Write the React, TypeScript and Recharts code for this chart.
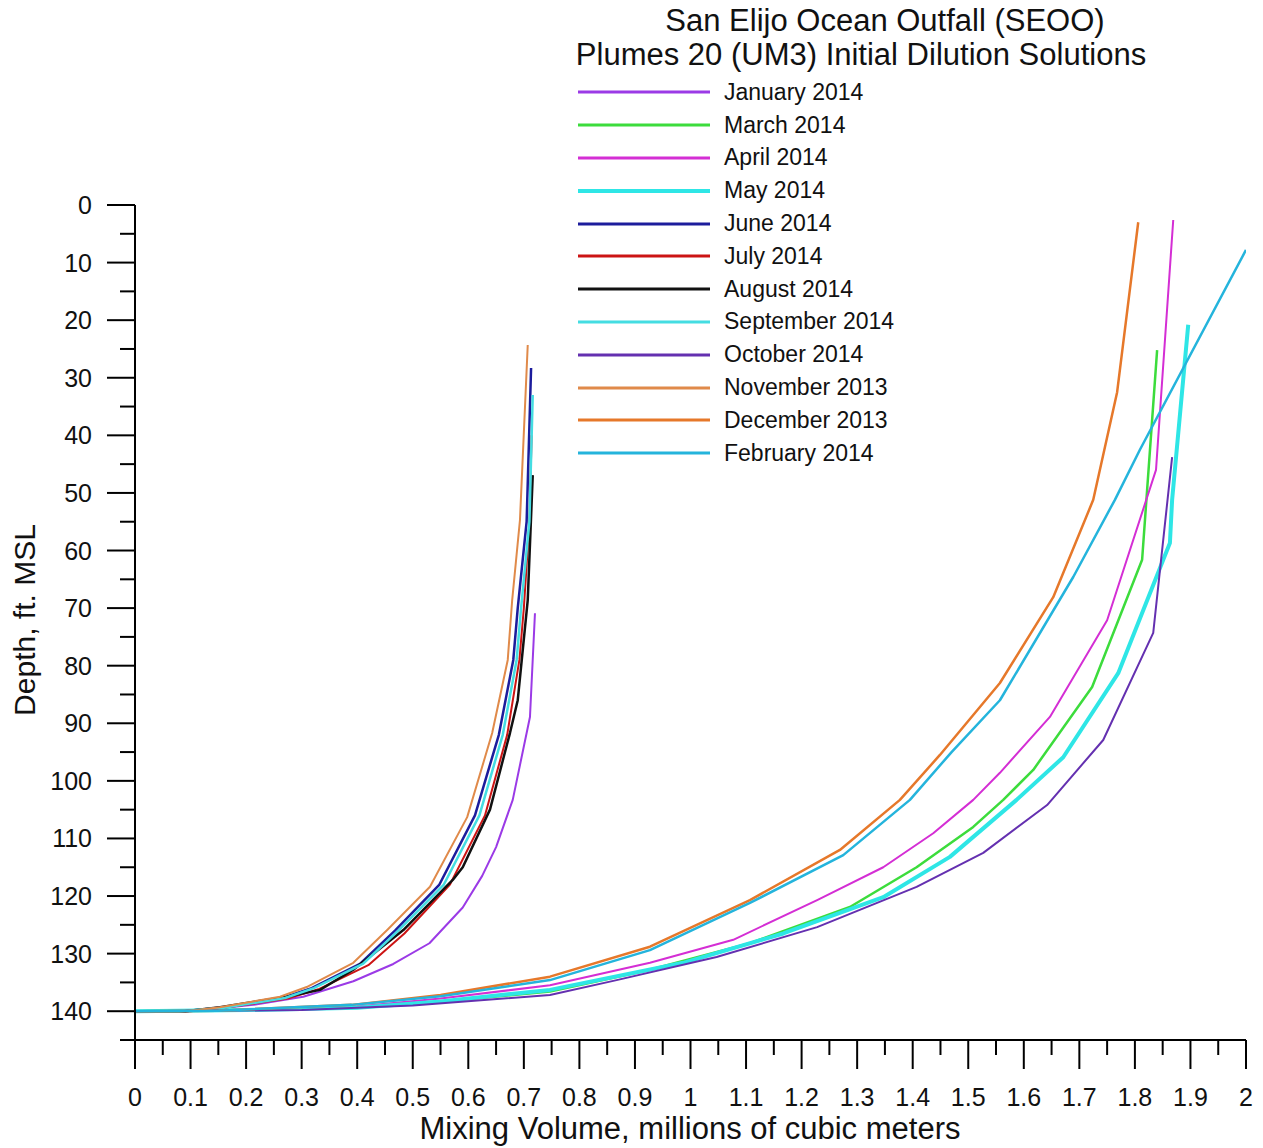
import { Legend, Line, LineChart, XAxis, YAxis } from 'recharts';

// [mixing volume (millions m3), depth (ft MSL)]
const jan2014 = [[0, 140], [0.123, 139.8], [0.213, 138.9], [0.303, 137.5], [0.393, 134.8], [0.465, 131.8], [0.53, 128.2], [0.59, 122], [0.625, 116.5], [0.65, 111.5], [0.68, 103.3], [0.711, 88.9], [0.72, 70.9]];
const mar2014 = [[0, 140], [0.2, 139.8], [0.4, 139.4], [0.55, 138.3], [0.747, 136.6], [0.927, 132.8], [1.107, 128.2], [1.287, 121.9], [1.407, 115], [1.509, 108], [1.563, 103.3], [1.617, 98.1], [1.723, 83.7], [1.813, 61.6], [1.84, 25.2]];
const apr2014 = [[0, 140], [0.2, 139.8], [0.4, 139.2], [0.55, 137.8], [0.747, 135.5], [0.927, 131.6], [1.077, 127.6], [1.228, 120.7], [1.347, 115], [1.437, 109.1], [1.509, 103.3], [1.557, 98.6], [1.647, 88.9], [1.75, 72.1], [1.838, 46], [1.869, 2.6]];
const may2014 = [[0, 140], [0.2, 139.8], [0.4, 139.4], [0.55, 138.3], [0.747, 136.3], [0.987, 131.6], [1.167, 126.5], [1.347, 120.2], [1.467, 113.2], [1.587, 103.3], [1.671, 95.9], [1.77, 81.3], [1.863, 58.7], [1.867, 51.2], [1.896, 20.8]];
const jun2014 = [[0, 140], [0.09, 140], [0.16, 139.3], [0.268, 137.6], [0.318, 136], [0.405, 131.8], [0.468, 126], [0.548, 118], [0.612, 106], [0.655, 92], [0.681, 79], [0.689, 70], [0.705, 55], [0.713, 28.3]];
const jul2014 = [[0, 140], [0.1, 140], [0.16, 139.4], [0.275, 137.8], [0.33, 136.2], [0.42, 132], [0.485, 126.5], [0.567, 118], [0.63, 106], [0.67, 92], [0.692, 79], [0.7, 70], [0.71, 55], [0.714, 40]];
const aug2014 = [[0, 140], [0.09, 140], [0.153, 139.3], [0.273, 137.5], [0.333, 136.3], [0.393, 132.8], [0.483, 125.9], [0.572, 117.2], [0.59, 115], [0.639, 105], [0.675, 91.7], [0.689, 86], [0.707, 68.6], [0.716, 46.9]];
const sep2014 = [[0, 140], [0.08, 140], [0.16, 139.4], [0.27, 137.7], [0.322, 136], [0.41, 131.8], [0.474, 126], [0.556, 118], [0.62, 106], [0.662, 92], [0.687, 79], [0.695, 70], [0.71, 55], [0.716, 33]];
const oct2014 = [[0, 140], [0.3, 139.8], [0.5, 139], [0.747, 137.2], [0.867, 134.6], [1.047, 130.6], [1.228, 125.4], [1.407, 118.4], [1.527, 112.5], [1.642, 104.2], [1.743, 92.9], [1.833, 74.3], [1.867, 43.8]];
const nov2013 = [[0, 140], [0.093, 140], [0.153, 139.3], [0.261, 137.5], [0.309, 135.8], [0.393, 131.6], [0.454, 125.9], [0.531, 118.4], [0.598, 106.3], [0.643, 91.7], [0.671, 79], [0.679, 68.6], [0.693, 54.7], [0.707, 24.3]];
const dec2013 = [[0, 140], [0.15, 139.9], [0.39, 138.9], [0.55, 137.2], [0.747, 134], [0.927, 128.8], [1.107, 120.7], [1.269, 112], [1.377, 103.3], [1.449, 95.5], [1.557, 83], [1.653, 68.1], [1.725, 51.2], [1.768, 32.5], [1.806, 3]];
const feb2014 = [[0, 140], [0.15, 139.9], [0.39, 138.9], [0.55, 137.4], [0.747, 134.6], [0.927, 129.4], [1.107, 121.2], [1.275, 112.9], [1.395, 103.3], [1.47, 95], [1.557, 86], [1.689, 64.6], [1.764, 51.2], [1.809, 42.5], [2.0, 7.8]];

const X_MAJOR = [0, 0.1, 0.2, 0.3, 0.4, 0.5, 0.6, 0.7, 0.8, 0.9, 1, 1.1, 1.2, 1.3, 1.4, 1.5, 1.6, 1.7, 1.8, 1.9, 2];
const Y_MAJOR = [0, 10, 20, 30, 40, 50, 60, 70, 80, 90, 100, 110, 120, 130, 140];

// minor ticks half way between majors
const X_TICKS = [...X_MAJOR, ...X_MAJOR.slice(1).map((v) => Math.round((v - 0.05) * 100) / 100)].sort((a, b) => a - b);
const Y_TICKS = [...Y_MAJOR, ...Y_MAJOR.map((v) => v + 5)].sort((a, b) => a - b);

const SERIES = [
  { name: 'January 2014', color: '#9b3ae6', width: 2, data: jan2014 },
  { name: 'March 2014', color: '#3cdc3c', width: 2.5, data: mar2014 },
  { name: 'April 2014', color: '#d42ed4', width: 2, data: apr2014 },
  { name: 'May 2014', color: '#2ee6e6', width: 4, data: may2014 },
  { name: 'June 2014', color: '#1c1c9c', width: 2.5, data: jun2014 },
  { name: 'July 2014', color: '#cc1414', width: 2, data: jul2014 },
  { name: 'August 2014', color: '#111111', width: 2.5, data: aug2014 },
  { name: 'September 2014', color: '#44dde2', width: 2.5, data: sep2014 },
  { name: 'October 2014', color: '#6430b0', width: 2, data: oct2014 },
  { name: 'November 2013', color: '#e08a4a', width: 2, data: nov2013 },
  { name: 'December 2013', color: '#e6782a', width: 2.5, data: dec2013 },
  { name: 'February 2014', color: '#24b4dc', width: 2.5, data: feb2014 },
];

const FONT = '"Liberation Sans", Arial, sans-serif';

const isMajor = (v: number, step: number) => Math.abs(v / step - Math.round(v / step)) < 1e-6;

const XTick = (props: any) => {
  const { x, y, payload } = props;
  const v = payload.value;
  const major = isMajor(v, 0.1);
  return (
    <g>
      <line x1={x} x2={x} y1={y} y2={y + (major ? 29 : 15)} stroke="#000" strokeWidth={2} />
      {major && (
        <text x={x} y={y + 66} textAnchor="middle" fontSize={25} fontFamily={FONT} fill="#111">
          {String(Math.round(v * 10) / 10)}
        </text>
      )}
    </g>
  );
};

const YTick = (props: any) => {
  const { x, y, payload } = props;
  const v = payload.value;
  const major = isMajor(v, 10);
  return (
    <g>
      <line x1={x - (major ? 28 : 15)} x2={x} y1={y} y2={y} stroke="#000" strokeWidth={2} />
      {major && (
        <text x={x - 43} y={y + 9} textAnchor="end" fontSize={25} fontFamily={FONT} fill="#111">
          {v}
        </text>
      )}
    </g>
  );
};

const renderLegend = () => (
  <div style={{ fontFamily: FONT, fontSize: 23, color: '#111' }}>
    {SERIES.map((s) => (
      <div key={s.name} style={{ display: 'flex', alignItems: 'center', height: 32.8 }}>
        <svg width={132} height={8}>
          <line x1={0} x2={132} y1={4} y2={4} stroke={s.color} strokeWidth={s.width >= 4 ? 4 : 3} />
        </svg>
        <span style={{ marginLeft: 14, whiteSpace: 'nowrap' }}>{s.name}</span>
      </div>
    ))}
  </div>
);

export default function App() {
  return (
    <div style={{ position: 'absolute', left: 0, top: 0, width: 1263, height: 1148, background: '#fff', fontFamily: FONT }}>
      <div style={{ position: 'absolute', left: 585, width: 600, top: 4, textAlign: 'center', fontSize: 31, lineHeight: '34px', color: '#111' }}>
        San Elijo Ocean Outfall (SEOO)
      </div>
      <div style={{ position: 'absolute', left: 561, width: 600, top: 38, textAlign: 'center', fontSize: 31, lineHeight: '34px', color: '#111' }}>
        Plumes 20 (UM3) Initial Dilution Solutions
      </div>
      <LineChart width={1263} height={1148} margin={{ top: 205, right: 17, left: 0, bottom: 0 }}>
        <XAxis
          type="number"
          dataKey="x"
          domain={[0, 2]}
          ticks={X_TICKS}
          interval={0}
          height={108}
          tickSize={0}
          tickMargin={0}
          tickLine={false}
          axisLine={{ stroke: '#000', strokeWidth: 2 }}
          tick={XTick}
          allowDataOverflow
        />
        <YAxis
          type="number"
          dataKey="d"
          domain={[0, 145]}
          reversed
          ticks={Y_TICKS}
          interval={0}
          width={135}
          tickSize={0}
          tickMargin={0}
          tickLine={false}
          axisLine={{ stroke: '#000', strokeWidth: 2 }}
          tick={YTick}
          allowDataOverflow
        />
        <Legend
          layout="vertical"
          align="center"
          verticalAlign="middle"
          content={renderLegend}
          wrapperStyle={{ left: 578, top: 76, width: 360 }}
        />
        {SERIES.map((s) => (
          <Line
            key={s.name}
            name={s.name}
            data={s.data.map(([x, d]) => ({ x, d }))}
            dataKey="d"
            type="linear"
            stroke={s.color}
            strokeWidth={s.width}
            strokeLinejoin="round"
            dot={false}
            activeDot={false}
            isAnimationActive={false}
          />
        ))}
      </LineChart>
      <div
        style={{
          position: 'absolute',
          left: 25,
          top: 620,
          transform: 'translate(-50%, -50%) rotate(-90deg)',
          fontSize: 30,
          whiteSpace: 'nowrap',
          color: '#111',
        }}
      >
        Depth, ft. MSL
      </div>
      <div style={{ position: 'absolute', left: 390, width: 600, top: 1112, textAlign: 'center', fontSize: 31, lineHeight: '34px', color: '#111' }}>
        Mixing Volume, millions of cubic meters
      </div>
    </div>
  );
}
